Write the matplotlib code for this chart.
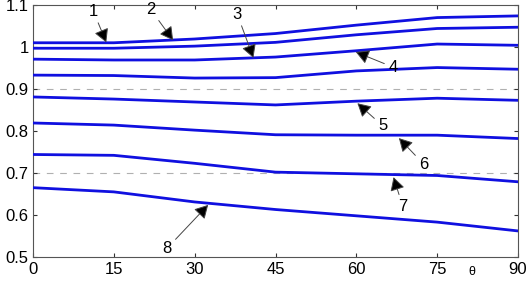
import matplotlib
matplotlib.use("Agg")
import matplotlib.pyplot as plt

plt.rcParams['font.family'] = ['Liberation Sans', 'DejaVu Sans']

theta = [0, 15, 30, 45, 60, 75, 90]
curves = [
    [1.011, 1.011, 1.020, 1.033, 1.053, 1.071, 1.075],
    [0.998, 0.998, 1.003, 1.012, 1.030, 1.045, 1.048],
    [0.972, 0.970, 0.970, 0.977, 0.992, 1.008, 1.005],
    [0.934, 0.933, 0.927, 0.928, 0.944, 0.952, 0.948],
    [0.882, 0.877, 0.870, 0.863, 0.872, 0.879, 0.874],
    [0.820, 0.815, 0.803, 0.792, 0.791, 0.791, 0.783],
    [0.745, 0.743, 0.724, 0.703, 0.699, 0.695, 0.680],
    [0.666, 0.656, 0.632, 0.614, 0.599, 0.584, 0.563],
]
labels = ["1", "2", "3", "4", "5", "6", "7", "8"]
# label position and arrow tip, data coords
label_xy = [(11.2, 1.086), (21.8, 1.091), (37.9, 1.079), (66.8, 0.953),
            (64.9, 0.813), (72.5, 0.722), (68.6, 0.622), (24.9, 0.522)]
tip_xy = [(13.6, 1.012), (26.0, 1.017), (40.9, 0.975), (59.9, 0.989),
          (60.2, 0.867), (67.9, 0.784), (66.9, 0.691), (32.5, 0.625)]
grid_y = [0.7, 0.9]

fig = plt.figure(figsize=(5.28, 2.81), dpi=100)
ax = fig.add_axes([0.0625, 0.084, 0.9186, 0.8968])

for y in grid_y:
    ax.axhline(y, color='#b0b0b0', lw=0.8, ls=(0, (6, 6)), zorder=1)

for c in curves:
    ax.plot(theta, c, color='#1010e0', lw=2, zorder=3)

for lab, lxy, txy in zip(labels, label_xy, tip_xy):
    ax.annotate(lab, xy=txy, xytext=lxy, fontsize=12, ha='center', va='center',
                arrowprops=dict(arrowstyle='-|>,head_length=0.45,head_width=0.25',
                                ec='#444444', fc='black', lw=0.7,
                                mutation_scale=18, shrinkA=1, shrinkB=0),
                zorder=4)

ax.set_xlim(0, 90)
ax.set_ylim(0.5, 1.1)
ax.set_xticks(theta)
ax.set_yticks([0.5, 0.6, 0.7, 0.8, 0.9, 1.0, 1.1])
ax.set_yticklabels(["0.5", "0.6", "0.7", "0.8", "0.9", "1", "1.1"])
ax.tick_params(direction='in', length=3, top=True, right=True, labelsize=12,
               color='#333333', pad=3)
for s in ax.spines.values():
    s.set_color('#555555')
    s.set_linewidth(0.8)
ax.text(0.904, -0.035, "θ", transform=ax.transAxes, fontsize=9,
        ha='center', va='top')

fig.savefig("out.png", dpi=100)
